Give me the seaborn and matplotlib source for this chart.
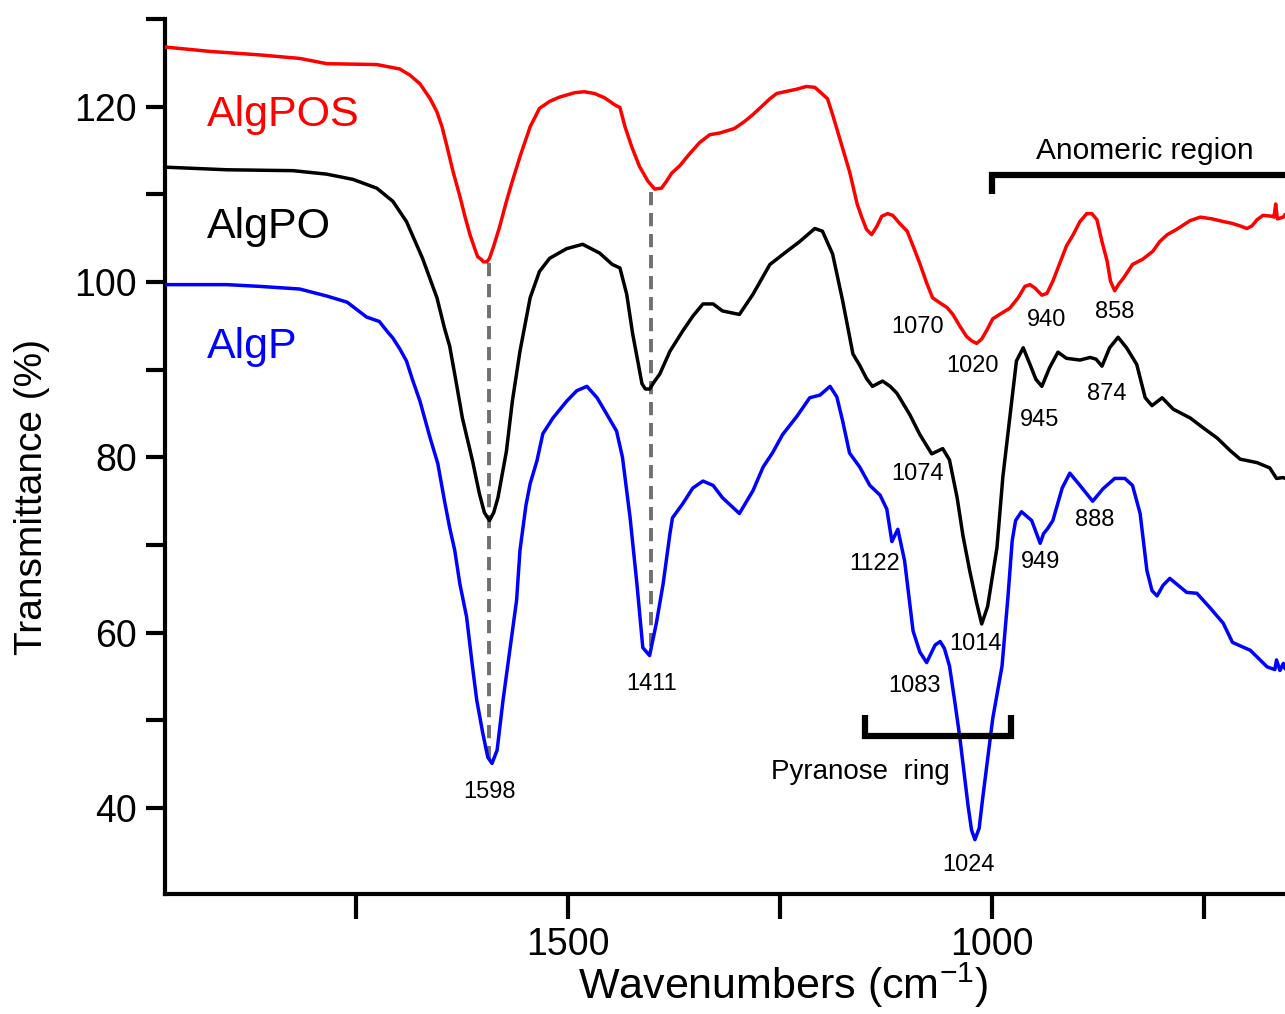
import matplotlib
matplotlib.use("Agg")
import matplotlib.pyplot as plt
import pandas as pd
import seaborn as sns

# ---------------- data ----------------
series_names = ["AlgPOS", "AlgPO", "AlgP"]
series_colors = ["#ff0000", "#000000", "#0000ff"]

wn_algpos = [1976, 1923, 1864, 1817, 1785, 1726, 1699, 1687, 1675, 1663, 1655, 1649, 1643, 1636, 1628,
             1622, 1616, 1610, 1607, 1603, 1600, 1596, 1593, 1588, 1581, 1573, 1566, 1557, 1545, 1534,
             1522, 1510, 1492, 1481, 1469, 1457, 1445, 1439, 1433, 1425, 1416, 1406, 1398, 1390, 1384,
             1378, 1368, 1357, 1345, 1333, 1321, 1304, 1292, 1282, 1262, 1254, 1230, 1219, 1209, 1203,
             1194, 1188, 1176, 1168, 1159, 1154, 1148, 1142, 1136, 1130, 1123, 1117, 1109, 1100, 1093,
             1085, 1077, 1070, 1061, 1053, 1046, 1038, 1030, 1024, 1018, 1012, 1006, 999, 991, 979,
             969, 961, 955, 949, 941, 935, 928, 920, 912, 904, 896, 888, 882, 876, 870,
             864, 860, 855, 850, 845, 834, 822, 810, 802, 793, 782, 766, 754, 740, 727,
             717, 707, 699, 693, 687, 680, 669, 667, 665, 663, 656, 654]
t_algpos = [126.8, 126.3, 125.9, 125.5, 124.9, 124.8, 124.3, 123.6, 122.6, 120.9, 119.4, 117.7, 115.4, 112.6, 109.8,
            107.5, 105.4, 103.7, 102.9, 102.6, 102.3, 102.3, 102.7, 104.1, 106.3, 109.2, 111.5, 114.3, 117.7, 119.8,
            120.6, 121.1, 121.6, 121.7, 121.5, 121.0, 120.2, 119.9, 117.7, 115.4, 113.2, 111.5, 110.6, 110.7, 111.5,
            112.4, 113.3, 114.6, 115.9, 116.8, 117.0, 117.5, 118.3, 119.1, 120.9, 121.5, 122.0, 122.3, 122.2, 121.7,
            120.9, 119.1, 115.2, 112.6, 108.9, 107.5, 106.0, 105.4, 106.3, 107.5, 107.8, 107.6, 106.7, 105.8, 104.1,
            102.1, 99.9, 98.2, 97.6, 97.1, 96.3, 95.0, 93.8, 93.3, 93.0, 93.5, 94.5, 95.8, 96.3, 97.0,
            98.2, 99.5, 99.7, 99.3, 98.5, 98.7, 100.1, 102.1, 104.1, 105.4, 106.9, 107.8, 107.8, 107.1, 104.6,
            102.4, 100.1, 99.0, 99.8, 100.4, 102.0, 102.6, 103.5, 104.6, 105.4, 106.0, 107.0, 107.4, 107.2, 106.9,
            106.7, 106.4, 106.1, 106.4, 107.1, 107.6, 107.5, 107.4, 108.9, 107.2, 107.4, 107.7]

wn_algpo = [1976, 1903, 1825, 1785, 1754, 1726, 1707, 1691, 1672, 1655, 1646, 1640, 1632, 1625, 1613,
            1605, 1599, 1593, 1588, 1583, 1573, 1566, 1557, 1545, 1534, 1522, 1502, 1483, 1463, 1448,
            1439, 1431, 1424, 1418, 1413, 1409, 1404, 1398, 1392, 1380, 1365, 1353, 1341, 1329, 1318,
            1298, 1282, 1262, 1242, 1227, 1209, 1200, 1188, 1176, 1164, 1156, 1148, 1141, 1129, 1120,
            1112, 1097, 1085, 1071, 1058, 1050, 1041, 1034, 1026, 1018, 1012, 1005, 994, 987, 979,
            971, 963, 955, 948, 941, 932, 922, 912, 896, 884, 877, 870, 861, 851, 841,
            829, 819, 811, 799, 786, 766, 751, 734, 719, 707, 687, 672, 664, 656, 654]
t_algpo = [113.1, 112.8, 112.7, 112.3, 111.7, 110.7, 109.2, 106.9, 102.7, 98.2, 94.7, 92.7, 88.4, 84.5, 79.6,
           75.9, 73.7, 72.8, 73.7, 75.4, 80.7, 86.4, 92.1, 98.2, 101.2, 102.7, 103.8, 104.3, 103.3, 102.0,
           101.6, 98.6, 94.1, 91.0, 88.4, 87.8, 87.8, 88.7, 89.5, 92.1, 94.4, 96.1, 97.5, 97.5, 96.7,
           96.3, 98.6, 102.0, 103.5, 104.6, 106.1, 105.8, 103.2, 97.8, 91.8, 90.5, 89.0, 88.1, 88.7, 88.1,
           87.3, 84.9, 82.6, 80.4, 81.0, 79.7, 75.4, 71.0, 67.0, 63.4, 61.0, 63.0, 69.7, 77.8, 84.4,
           91.0, 92.5, 90.6, 88.9, 88.1, 90.2, 92.0, 91.3, 91.1, 91.4, 91.2, 90.4, 92.5, 93.7, 92.5,
           90.6, 86.8, 85.9, 86.8, 85.5, 84.5, 83.4, 82.2, 80.8, 79.8, 79.4, 78.8, 77.6, 77.7, 77.6]

wn_algp = [1976, 1903, 1864, 1817, 1785, 1761, 1738, 1723, 1714, 1707, 1699, 1691, 1684, 1675, 1663,
           1654, 1646, 1640, 1634, 1628, 1620, 1613, 1608, 1601, 1595, 1590, 1584, 1577, 1569, 1561,
           1557, 1550, 1545, 1537, 1530, 1518, 1502, 1490, 1478, 1466, 1455, 1443, 1436, 1427, 1419,
           1412, 1404, 1396, 1388, 1380, 1377, 1365, 1353, 1341, 1329, 1318, 1298, 1282, 1270, 1259,
           1247, 1230, 1215, 1203, 1191, 1183, 1176, 1168, 1156, 1144, 1132, 1124, 1118, 1111, 1103,
           1093, 1085, 1077, 1067, 1061, 1056, 1050, 1044, 1038, 1028, 1024, 1020, 1015, 1011, 999,
           988, 981, 976, 972, 965, 953, 943, 939, 934, 928, 917, 908, 896, 881, 869,
           855, 843, 834, 825, 817, 811, 805, 798, 790, 770, 758, 743, 727, 716, 695,
           675, 666, 664, 660, 656, 654]
t_algp = [99.7, 99.7, 99.5, 99.2, 98.4, 97.7, 96.0, 95.5, 94.4, 93.6, 92.4, 91.0, 88.9, 86.4, 82.2,
          79.3, 75.0, 72.0, 69.4, 65.6, 61.8, 56.1, 52.3, 48.6, 45.8, 45.1, 46.6, 52.3, 58.0, 63.7,
          69.4, 74.5, 77.0, 79.6, 82.7, 84.5, 86.4, 87.6, 88.1, 86.8, 85.0, 83.0, 80.0, 73.1, 65.6,
          58.3, 57.4, 61.1, 65.6, 71.3, 73.1, 74.7, 76.5, 77.3, 76.8, 75.4, 73.6, 76.2, 78.9, 80.5,
          82.6, 84.7, 86.8, 87.1, 88.1, 86.9, 84.1, 80.5, 78.9, 76.8, 75.7, 74.1, 70.4, 71.8, 68.2,
          60.2, 57.8, 56.6, 58.6, 59.0, 58.2, 56.2, 52.3, 48.2, 40.2, 37.5, 36.4, 37.7, 41.0, 50.2,
          56.2, 64.1, 70.5, 72.8, 73.8, 72.8, 70.2, 71.3, 71.9, 72.8, 76.5, 78.2, 76.8, 75.0, 76.4,
          77.6, 77.6, 76.8, 73.6, 67.1, 64.8, 64.2, 65.4, 66.2, 64.6, 64.5, 62.9, 61.1, 58.9, 58.0,
          56.1, 55.8, 56.9, 55.7, 56.5, 55.9]

peak_labels = ["1070", "1020", "940", "858", "945", "874", "1074", "1014",
               "1122", "1083", "1024", "949", "888", "1598", "1411"]
peak_label_wn = [1088, 1023, 935, 855, 944, 864, 1088, 1019,
                 1138, 1091, 1027, 943, 879, 1593, 1402]
peak_label_t = [94.2, 89.7, 95.0, 95.9, 83.6, 86.6, 77.4, 58.0,
                67.1, 53.2, 32.8, 67.4, 72.2, 41.1, 53.5]

x_tick_values = [1750, 1500, 1250, 1000, 750]
x_tick_labels = ["", "1500", "", "1000", ""]
y_tick_values = [40, 50, 60, 70, 80, 90, 100, 110, 120, 130]
y_tick_labels = ["40", "", "60", "", "80", "", "100", "", "120", ""]

# ---------------- style ----------------
sns.set_theme(style="ticks")
plt.rcParams["font.family"] = ["Liberation Sans", "DejaVu Sans"]
plt.rcParams["mathtext.default"] = "regular"
plt.rcParams["text.color"] = "black"
plt.rcParams["axes.labelcolor"] = "black"
plt.rcParams["xtick.color"] = "black"
plt.rcParams["ytick.color"] = "black"

fig = plt.figure(figsize=(12.85, 10.14), dpi=100)
ax = fig.add_axes([0.1284, 0.1183, 0.8716, 0.863])

frames = []
for name, wn, t in [("AlgPOS", wn_algpos, t_algpos),
                    ("AlgPO", wn_algpo, t_algpo),
                    ("AlgP", wn_algp, t_algp)]:
    frames.append(pd.DataFrame({"wn": wn, "t": t, "series": name}))
df = pd.concat(frames, ignore_index=True)

sns.lineplot(data=df, x="wn", y="t", hue="series", hue_order=series_names,
             palette=dict(zip(series_names, series_colors)), sort=False,
             estimator=None, linewidth=2.5, legend=False, ax=ax, zorder=3)
for ln in ax.lines:
    ln.set_solid_joinstyle("round")

ax.set_xlim(1976, 654)
ax.set_ylim(30.2, 130)

# dashed guide lines
ax.plot([1593, 1593], [102.2, 45.3], color="#707070", lw=2.8,
        linestyle=(0, (3.4, 2.0)), zorder=2)
ax.plot([1402, 1402], [110.3, 57.8], color="#707070", lw=2.8,
        linestyle=(0, (3.4, 2.0)), zorder=2)

# brackets
ax.plot([1000, 1000, 640], [110.0, 112.2, 112.2], color="black", lw=4.5,
        solid_joinstyle="miter", solid_capstyle="butt", clip_on=False, zorder=4)
ax.plot([1150, 1150, 977.6, 977.6], [50.6, 48.2, 48.2, 50.6], color="black", lw=4.5,
        solid_joinstyle="miter", solid_capstyle="butt", zorder=4)
ax.text(819, 114.0, "Anomeric region", fontsize=21.5, ha="center", va="baseline",
        color="black")
ax.text(1155, 43.3, "Pyranose  ring", fontsize=20, ha="center", va="baseline",
        color="black")

# curve labels
for name, col, yb in zip(series_names, series_colors, [117.8, 105.0, 91.3]):
    ax.text(1927, yb, name, color=col, fontsize=31, ha="left", va="baseline")

# peak labels
for lab, xw, yt in zip(peak_labels, peak_label_wn, peak_label_t):
    ax.text(xw, yt, lab, fontsize=17, ha="center", va="baseline", color="black")

# axes styling
for s in ["top", "right"]:
    ax.spines[s].set_visible(False)
for s in ["left", "bottom"]:
    ax.spines[s].set_linewidth(3)
    ax.spines[s].set_color("black")
ax.set_xticks(x_tick_values)
ax.set_xticklabels(x_tick_labels)
ax.set_yticks(y_tick_values)
ax.set_yticklabels(y_tick_labels)
ax.tick_params(axis="x", direction="out", length=18, width=3, pad=6,
               labelsize=27, colors="black")
ax.tick_params(axis="y", direction="out", length=14, width=3, pad=6,
               labelsize=27, colors="black")

ax.set_xlabel(r"Wavenumbers (cm$^{-1}$)", fontsize=31, color="black")
ax.set_ylabel("Transmittance (%)", fontsize=28, color="black")
ax.xaxis.set_label_coords(0.552, -0.076)
ax.yaxis.set_label_coords(-0.1027, 0.454)
ax.set_facecolor("white")
fig.patch.set_facecolor("white")

fig.savefig("out.png", dpi=100)
